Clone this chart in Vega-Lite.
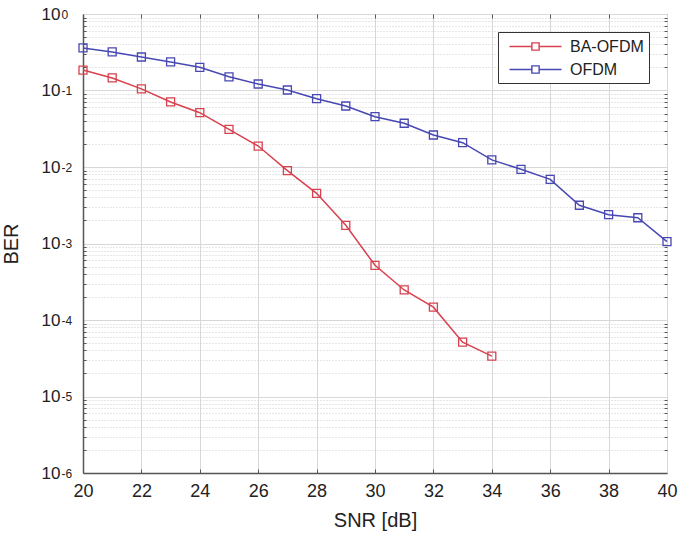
{
  "$schema": "https://vega.github.io/schema/vega-lite/v6.json",
  "width": 584,
  "height": 459,
  "autosize": {"type": "none"},
  "padding": {"left": 83, "top": 14, "right": 12, "bottom": 68},
  "background": "white",
  "config": {
    "font": "Liberation Sans",
    "view": {"stroke": "#777", "strokeWidth": 1},
    "axis": {
      "labelFont": "Liberation Sans",
      "titleFont": "Liberation Sans",
      "labelColor": "#222",
      "titleColor": "#222",
      "labelFontSize": 17,
      "titleFontSize": 20,
      "titleFontWeight": "normal",
      "gridColor": "#d8d8d8",
      "gridWidth": 1,
      "domainColor": "#555",
      "domainWidth": 1.5,
      "tickColor": "#555",
      "labelFlush": false
    },
    "legend": {
      "orient": "none",
      "legendX": 415,
      "legendY": 18,
      "strokeColor": "#333",
      "fillColor": "white",
      "padding": 5,
      "labelFont": "Liberation Sans",
      "labelFontSize": 16,
      "labelColor": "#222",
      "rowPadding": 5,
      "symbolType": "M-3,0H-0.42M0.42,0H3M-0.42,-0.42H0.42V0.42H-0.42Z",
      "symbolSize": 300,
      "symbolOffset": 23,
      "labelOffset": 25,
      "symbolStrokeWidth": 1.4,
      "symbolFillColor": "transparent",
      "cornerRadius": 0
    }
  },
  "data": {
    "values": [
      {"snr": 20, "ber": 0.185, "series": "BA-OFDM"},
      {"snr": 21, "ber": 0.146, "series": "BA-OFDM"},
      {"snr": 22, "ber": 0.105, "series": "BA-OFDM"},
      {"snr": 23, "ber": 0.0708, "series": "BA-OFDM"},
      {"snr": 24, "ber": 0.0513, "series": "BA-OFDM"},
      {"snr": 25, "ber": 0.0311, "series": "BA-OFDM"},
      {"snr": 26, "ber": 0.0188, "series": "BA-OFDM"},
      {"snr": 27, "ber": 0.00895, "series": "BA-OFDM"},
      {"snr": 28, "ber": 0.00453, "series": "BA-OFDM"},
      {"snr": 29, "ber": 0.00173, "series": "BA-OFDM"},
      {"snr": 30, "ber": 0.000519, "series": "BA-OFDM"},
      {"snr": 31, "ber": 0.000247, "series": "BA-OFDM"},
      {"snr": 32, "ber": 0.000147, "series": "BA-OFDM"},
      {"snr": 33, "ber": 0.0000513, "series": "BA-OFDM"},
      {"snr": 34, "ber": 0.0000337, "series": "BA-OFDM"},
      {"snr": 20, "ber": 0.36, "series": "OFDM"},
      {"snr": 21, "ber": 0.319, "series": "OFDM"},
      {"snr": 22, "ber": 0.274, "series": "OFDM"},
      {"snr": 23, "ber": 0.236, "series": "OFDM"},
      {"snr": 24, "ber": 0.201, "series": "OFDM"},
      {"snr": 25, "ber": 0.151, "series": "OFDM"},
      {"snr": 26, "ber": 0.1216, "series": "OFDM"},
      {"snr": 27, "ber": 0.1015, "series": "OFDM"},
      {"snr": 28, "ber": 0.0781, "series": "OFDM"},
      {"snr": 29, "ber": 0.0627, "series": "OFDM"},
      {"snr": 30, "ber": 0.0455, "series": "OFDM"},
      {"snr": 31, "ber": 0.0373, "series": "OFDM"},
      {"snr": 32, "ber": 0.0262, "series": "OFDM"},
      {"snr": 33, "ber": 0.0208, "series": "OFDM"},
      {"snr": 34, "ber": 0.0124, "series": "OFDM"},
      {"snr": 35, "ber": 0.00933, "series": "OFDM"},
      {"snr": 36, "ber": 0.0069, "series": "OFDM"},
      {"snr": 37, "ber": 0.00316, "series": "OFDM"},
      {"snr": 38, "ber": 0.00238, "series": "OFDM"},
      {"snr": 39, "ber": 0.00217, "series": "OFDM"},
      {"snr": 40, "ber": 0.00106, "series": "OFDM"}
    ]
  },
  "resolve": {"axis": {"x": "independent", "y": "independent"}},
  "layer": [
    {
      "mark": {"type": "line", "opacity": 0},
      "encoding": {
        "x": {
          "field": "snr", "type": "quantitative",
          "scale": {"domain": [20, 40], "nice": false, "zero": false},
          "axis": {"orient": "top", "values": [22, 24, 26, 28, 30, 32, 34, 36, 38], "labels": false, "grid": false, "domain": false, "ticks": true, "tickSize": -4, "title": null}
        },
        "y": {
          "field": "ber", "type": "quantitative",
          "scale": {"type": "log", "domain": [0.000001, 1], "nice": false},
          "axis": {
            "orient": "left",
            "values": [0.000002, 0.000003, 0.000004, 0.000005, 0.000006, 0.000007, 0.000008, 0.000009,
                       0.00002, 0.00003, 0.00004, 0.00005, 0.00006, 0.00007, 0.00008, 0.00009,
                       0.0002, 0.0003, 0.0004, 0.0005, 0.0006, 0.0007, 0.0008, 0.0009,
                       0.002, 0.003, 0.004, 0.005, 0.006, 0.007, 0.008, 0.009,
                       0.02, 0.03, 0.04, 0.05, 0.06, 0.07, 0.08, 0.09,
                       0.2, 0.3, 0.4, 0.5, 0.6, 0.7, 0.8, 0.9],
            "labels": false, "domain": false, "ticks": true, "tickSize": -3,
            "grid": true, "gridDash": [1, 2], "gridColor": "#cfcfcf",
            "title": null
          }
        },
        "detail": {"field": "series"}
      }
    },
    {
      "mark": {"type": "line", "opacity": 0},
      "encoding": {
        "x": {
          "field": "snr", "type": "quantitative",
          "axis": {"orient": "bottom", "values": [22, 24, 26, 28, 30, 32, 34, 36, 38], "labels": false, "grid": false, "domain": false, "ticks": true, "tickSize": -4, "title": null}
        },
        "y": {
          "field": "ber", "type": "quantitative",
          "axis": {
            "orient": "right",
            "values": [0.000002, 0.000003, 0.000004, 0.000005, 0.000006, 0.000007, 0.000008, 0.000009,
                       0.00002, 0.00003, 0.00004, 0.00005, 0.00006, 0.00007, 0.00008, 0.00009,
                       0.0002, 0.0003, 0.0004, 0.0005, 0.0006, 0.0007, 0.0008, 0.0009,
                       0.002, 0.003, 0.004, 0.005, 0.006, 0.007, 0.008, 0.009,
                       0.02, 0.03, 0.04, 0.05, 0.06, 0.07, 0.08, 0.09,
                       0.2, 0.3, 0.4, 0.5, 0.6, 0.7, 0.8, 0.9],
            "labels": false, "domain": false, "ticks": true, "tickSize": -3,
            "grid": false, "title": null
          }
        },
        "detail": {"field": "series"}
      }
    },
    {
      "mark": {"type": "line", "opacity": 0},
      "encoding": {
        "x": {"field": "snr", "type": "quantitative", "axis": null},
        "y": {
          "field": "ber", "type": "quantitative",
          "axis": {
            "orient": "left",
            "values": [0.000001, 0.00001, 0.0001, 0.001, 0.01, 0.1, 1],
            "labelExpr": "['0','-1','-2','-3','-4','-5','-6'][-round(log(datum.value)/LN10)]",
            "labelAlign": "left", "labelFontSize": 12, "labelDy": -7,
            "labelPadding": 22, "ticks": false, "domain": false, "grid": false,
            "title": null
          }
        },
        "detail": {"field": "series"}
      }
    },
    {
      "mark": {"type": "line", "strokeWidth": 1.5, "point": {"shape": "square", "filled": false, "size": 64, "strokeWidth": 1.3}},
      "encoding": {
        "x": {
          "field": "snr", "type": "quantitative",
          "axis": {
            "values": [20, 22, 24, 26, 28, 30, 32, 34, 36, 38, 40],
            "grid": true, "ticks": false, "labelPadding": 9, "labelFontSize": 18,
            "title": "SNR [dB]", "titlePadding": 10
          }
        },
        "y": {
          "field": "ber", "type": "quantitative",
          "axis": {
            "orient": "left",
            "values": [0.000001, 0.00001, 0.0001, 0.001, 0.01, 0.1, 1],
            "labelExpr": "'10'",
            "labelDy": 3,
            "grid": true, "ticks": false, "labelPadding": 23,
            "title": "BER", "titlePadding": 20
          }
        },
        "color": {
          "field": "series", "type": "nominal",
          "scale": {"domain": ["BA-OFDM", "OFDM"], "range": ["#d8414e", "#4848b4"]},
          "legend": {"title": null}
        }
      }
    }
  ]
}
